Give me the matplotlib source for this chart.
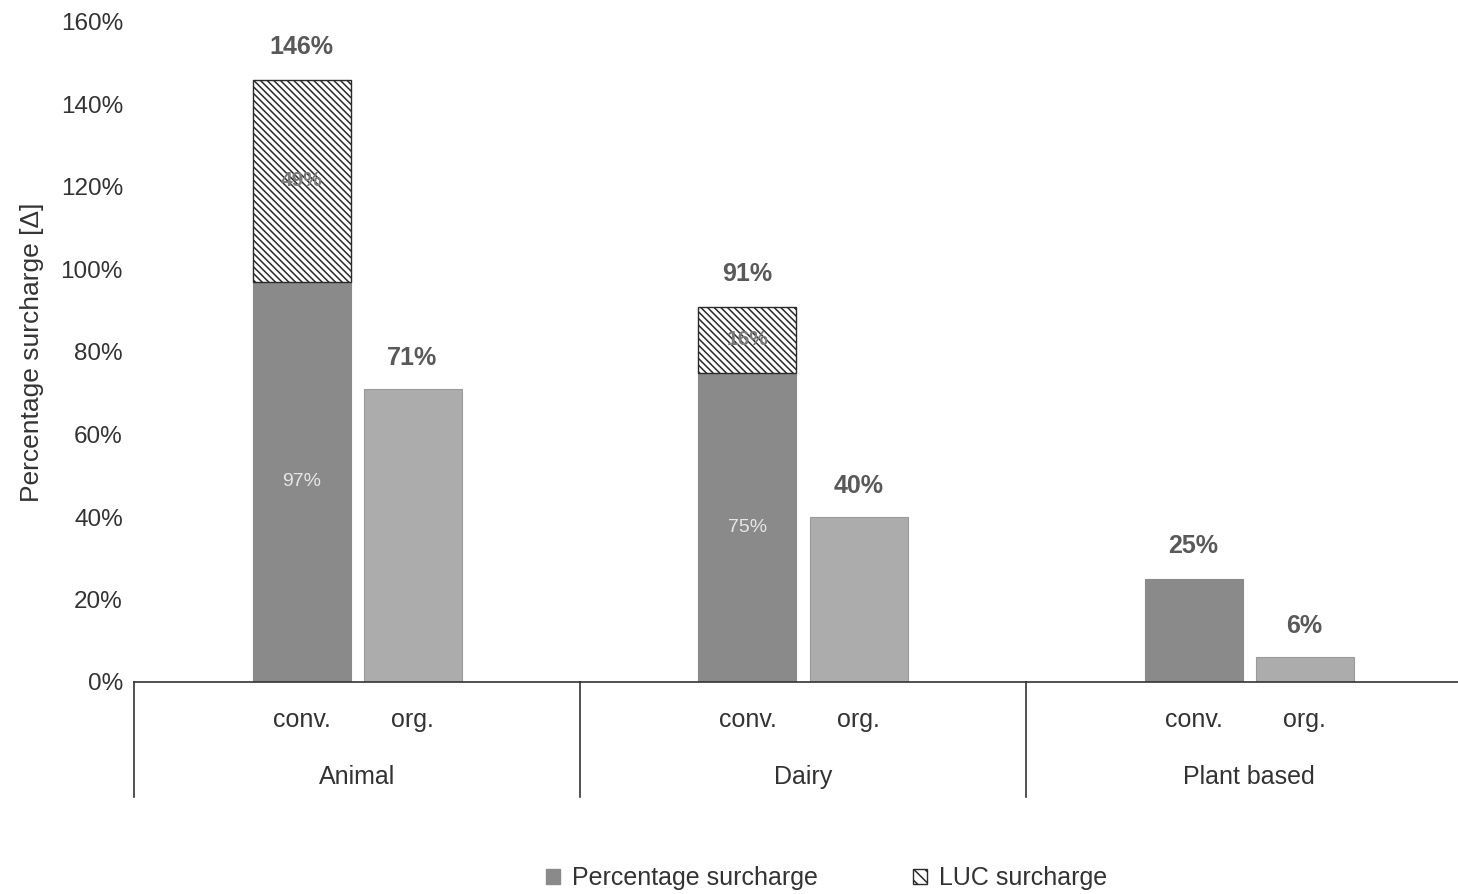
import numpy as np
import matplotlib
matplotlib.use("Agg")
import matplotlib.pyplot as plt
from matplotlib.patches import Patch

plt.rcParams['font.family'] = ['Liberation Sans', 'DejaVu Sans']
plt.rcParams['hatch.linewidth'] = 1.1

# data: surcharge per food group, conventional vs organic
groups = ['Animal', 'Dairy', 'Plant based']
subs = ['conv.', 'org.']
conv_base = [97, 75, 25]   # percentage surcharge (conv.)
conv_luc = [49, 16, 0]     # LUC surcharge on top (conv.)
org_vals = [71, 40, 6]     # percentage surcharge (org.)
yticks = [0, 20, 40, 60, 80, 100, 120, 140, 160]

dark = '#8a8a8a'
light = '#acacac'
lab_col = '#595959'
txt = '#333333'

fig = plt.figure(figsize=(14.58, 8.94), dpi=100)
# left edge at the first group separator, right side runs off the canvas a bit
ax = fig.add_axes([134/1458, (894-682)/894, 1 - 134/1458, (682-22)/894])

x = np.arange(len(groups))
bw = 98/446
off = 55.5/446
cx = x + 0.5
xc = cx - off
xo = cx + off

ax.bar(xc, conv_base, bw, color=dark, edgecolor=dark, linewidth=0.8)
# only stack the LUC part where there is one (avoids a stray edge line)
has_luc = np.array(conv_luc) > 0
ax.bar(xc[has_luc], np.array(conv_luc)[has_luc], bw,
       bottom=np.array(conv_base)[has_luc], color='white', edgecolor='#2a2a2a',
       hatch='\\\\\\\\\\', linewidth=1.0)
ax.bar(xo, org_vals, bw, color=light, edgecolor='#9a9a9a', linewidth=0.8)

for i in range(len(groups)):
    total = conv_base[i] + conv_luc[i]
    ax.text(xc[i], total + 8, f'{total}%', ha='center', va='center',
            fontsize=18, fontweight='bold', color=lab_col)
    ax.text(xo[i], org_vals[i] + 7.5, f'{org_vals[i]}%', ha='center', va='center',
            fontsize=18, fontweight='bold', color=lab_col)
    if conv_luc[i] > 0:
        ax.text(xc[i], conv_base[i] / 2, f'{conv_base[i]}%', ha='center', va='center',
                fontsize=14, color='#e6e6e6')
        ax.text(xc[i], conv_base[i] + conv_luc[i] / 2, f'{conv_luc[i]}%', ha='center',
                va='center', fontsize=15, fontweight='bold', color='#7a7a7a')

ax.set_ylim(0, 160)
ax.set_xlim(0, 1324/446)
ax.set_yticks(yticks)
ax.set_yticklabels([f'{t}%' for t in yticks], fontsize=17.5, color=txt)
ax.tick_params(axis='y', length=0, pad=8)
ax.set_xticks([])
ax.set_ylabel('Percentage surcharge [Δ]', fontsize=19, color=txt)
ax.yaxis.set_label_coords(-0.068, 0.5)
for s in ['top', 'right', 'left']:
    ax.spines[s].set_visible(False)
ax.spines['bottom'].set_color(txt)
ax.spines['bottom'].set_linewidth(1.2)

# two-level category axis below the bars
trans = ax.get_xaxis_transform()
ax_h = (682 - 22)
for b in range(len(groups)):
    ax.plot([b, b], [0, -(797-682)/ax_h], transform=trans, color=txt,
            lw=1.2, clip_on=False)
for i, g in enumerate(groups):
    ax.text(xc[i], -(720-682)/ax_h, subs[0], transform=trans, ha='center', va='center',
            fontsize=18, color=txt)
    ax.text(xo[i], -(720-682)/ax_h, subs[1], transform=trans, ha='center', va='center',
            fontsize=18, color=txt)
    ax.text(cx[i], -(777-682)/ax_h, g, transform=trans, ha='center', va='center',
            fontsize=18, color=txt)

handles = [Patch(facecolor=dark, edgecolor=dark),
           Patch(facecolor='white', edgecolor='#2a2a2a', hatch='\\\\\\')]
fig.legend(handles, ['Percentage surcharge', 'LUC surcharge'], loc='center',
           bbox_to_anchor=(0.567, 1 - 878/894), ncol=2, frameon=False, fontsize=18,
           handlelength=0.55, handleheight=0.55, handletextpad=0.5, columnspacing=3.8,
           labelcolor=txt)

fig.savefig('out.png', dpi=100)
